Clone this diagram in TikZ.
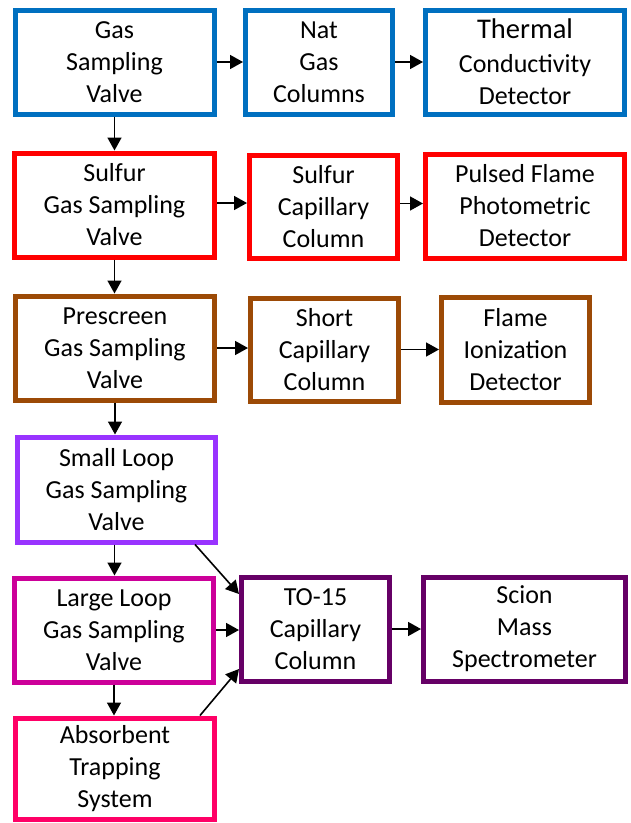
\documentclass[tikz,border=0pt]{standalone}
\usepackage{fontspec}
\setmainfont{Carlito}
\usetikzlibrary{arrows.meta,calc}
\definecolor{cblue}{HTML}{0070C0}
\definecolor{cred}{HTML}{FF0000}
\definecolor{cbrown}{HTML}{9C4A06}
\definecolor{cviolet}{HTML}{9933FF}
\definecolor{cmagenta}{HTML}{CC0099}
\definecolor{cplum}{HTML}{660066}
\definecolor{cpink}{HTML}{FF0066}
\begin{document}
\begin{tikzpicture}[x=1pt,y=-1pt,
  box/.style={draw,line width=5pt,align=center,inner sep=0pt,
    font=\fontsize{26}{32}\selectfont,minimum height=104pt},
  wide/.style={box,minimum width=199pt},
  narrow/.style={box,minimum width=148pt},
  arr/.style={line width=1.6pt,-{Triangle[length=13pt,width=14pt]}}]
\useasboundingbox (0,0) rectangle (630,823);
% row 1
\node[wide,draw=cblue] (gsv) at (114.5,62) {Gas\\Sampling\\Valve};
\node[narrow,draw=cblue,minimum width=147pt] (nat) at (319,62) {Nat\\Gas\\Columns};
\node[wide,draw=cblue] (tcd) at (525,62) {{\fontsize{28.5}{32}\selectfont Thermal}\\[2pt]Conductivity\\Detector};
% row 2
\node[wide,draw=cred,minimum width=200pt] (sgsv) at (114.5,205) {Sulfur\\Gas Sampling\\Valve};
\node[narrow,draw=cred,minimum height=103pt] (scap) at (323.5,206.5) {Sulfur\\Capillary\\Column};
\node[wide,draw=cred] (pfpd) at (525,206) {Pulsed Flame\\Photometric\\Detector};
% row 3
\node[wide,draw=cbrown] (pre) at (115,348) {Prescreen\\Gas Sampling\\Valve};
\node[narrow,draw=cbrown,minimum height=103pt] (short) at (324.5,349.5) {Short\\Capillary\\Column};
\node[narrow,draw=cbrown,minimum height=105pt] (fid) at (515.5,349.5) {Flame\\Ionization\\Detector};
% row 4
\node[wide,draw=cviolet,minimum width=198pt,minimum height=105pt] (small) at (116.5,489.5) {Small Loop\\Gas Sampling\\Valve};
% row 5
\node[wide,draw=cmagenta] (large) at (114,630) {Large Loop\\Gas Sampling\\Valve};
\node[narrow,draw=cplum] (to15) at (315.5,629) {TO-15\\Capillary\\Column};
\node[wide,draw=cplum,minimum width=202pt] (scion) at (524.5,629) {Scion\\Mass\\Spectrometer};
% row 6
\node[wide,draw=cpink,minimum height=101pt] (abs) at (115,768.5) {Absorbent\\Trapping\\System};
% connectors
\draw[arr] (gsv.east) -- (gsv.east -| nat.west);
\draw[arr] (nat.east) -- (nat.east -| tcd.west);
\draw[arr] (gsv.south) -- (gsv.south |- sgsv.north);
\draw[arr] ($(sgsv.east)+(0,-2)$) -- ($(sgsv.east -| scap.west)+(0,-2)$);
\draw[arr] ($(scap.east)+(0,-3)$) -- ($(scap.east -| pfpd.west)+(0,-3)$);
\draw[arr] (sgsv.south) -- (sgsv.south |- pre.north);
\draw[arr] (pre.east) -- (pre.east -| short.west);
\draw[arr] (short.east) -- (short.east -| fid.west);
\draw[arr] (pre.south) -- (pre.south |- small.north);
\draw[arr] (small.south -| gsv.south) -- (gsv.south |- large.north);
\draw[arr] ($(small.south east)+(-23,0)$) -- ($(to15.west)+(0,-35)$);
\draw[arr] (large.east) -- (large.east -| to15.west);
\draw[arr] ($(abs.north east)+(-17,0)$) -- ($(to15.west)+(0,40)$);
\draw[arr] (large.south) -- (large.south |- abs.north);
\draw[arr] (to15.east) -- (to15.east -| scion.west);
\end{tikzpicture}
\end{document}
